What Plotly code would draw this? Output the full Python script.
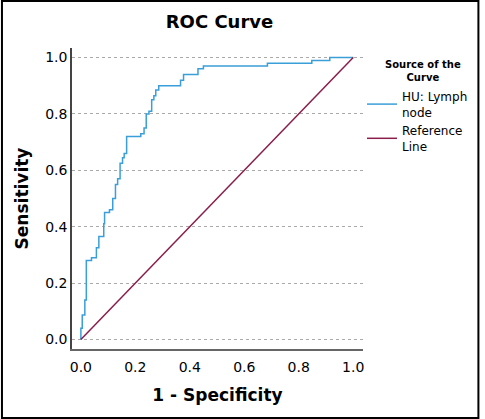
import plotly.graph_objects as go

# ROC curve vertices (1 - specificity, sensitivity), step curve
fpr = [0, 0, 0.005, 0.0145, 0.02, 0.039, 0.057, 0.066, 0.084, 0.087, 0.105, 0.117,
       0.127, 0.135, 0.144, 0.153, 0.159, 0.168, 0.22, 0.232, 0.24, 0.25, 0.26,
       0.268, 0.275, 0.286, 0.366, 0.377, 0.43, 0.45, 0.685, 0.848, 0.914, 1.0]
tpr = [0, 0.04, 0.087, 0.14, 0.28, 0.29, 0.325, 0.365, 0.41, 0.45, 0.46, 0.50,
       0.55, 0.57, 0.625, 0.645, 0.66, 0.72, 0.73, 0.75, 0.80, 0.81, 0.85,
       0.865, 0.885, 0.90, 0.92, 0.94, 0.96, 0.97, 0.98, 0.99, 1.0, 1.0]
ref_x = [0, 1]
ref_y = [0, 1]
tick_vals = [0, 0.2, 0.4, 0.6, 0.8, 1.0]
tick_text = ["0.0", "0.2", "0.4", "0.6", "0.8", "1.0"]

W, H = 485, 419
L, R, T, B = 72, 118, 48, 70
pw, ph = W - L - R, H - T - B

fig = go.Figure()
fig.add_trace(go.Scatter(x=fpr, y=tpr, mode="lines", line_shape="hv",
                         line=dict(color="#3a9fd8", width=1.5),
                         name="HU: Lymph<br>node"))
fig.add_trace(go.Scatter(x=ref_x, y=ref_y, mode="lines",
                         line=dict(color="#8a1d4a", width=1.5),
                         name="Reference<br>Line"))

font = "DejaVu Sans"
fig.update_layout(
    width=W, height=H,
    margin=dict(l=L, r=R, t=T, b=B),
    paper_bgcolor="white", plot_bgcolor="white",
    font=dict(family=font, color="black"),
    title=dict(text="<b>ROC Curve</b>", font=dict(size=18, family=font),
               x=(L + pw / 2) / W, xanchor="center", y=1 - 22 / H, yanchor="middle"),
    showlegend=True,
    legend=dict(
        x=(366 - L) / pw, xanchor="left", y=(H - B - 82) / ph, yanchor="top",
        font=dict(size=12, family=font), bgcolor="rgba(0,0,0,0)",
        tracegroupgap=0, itemwidth=30,
    ),
)
fig.add_annotation(text="<b>Source of the<br>Curve</b>", xref="paper", yref="paper",
                   x=(428 - L) / pw, y=(H - B - 71) / ph, xanchor="center", yanchor="middle",
                   showarrow=False, align="center", font=dict(size=10, family=font))
fig.update_xaxes(range=[-0.0326, 1.036], tickvals=tick_vals, ticktext=tick_text,
                 showgrid=False, zeroline=False, showline=True, linecolor="#666",
                 linewidth=1.5, ticks="", tickfont=dict(size=14), ticklabelstandoff=4,
                 title=dict(text="<b>1 - Specificity</b>", font=dict(size=17), standoff=16))
fig.update_yaxes(range=[-0.034, 1.034], tickvals=tick_vals, ticktext=tick_text,
                 showgrid=True, gridcolor="#aaaaaa", griddash="3px,3px", gridwidth=1,
                 zeroline=False, showline=True, linecolor="#444",
                 linewidth=1.5, ticks="", tickfont=dict(size=14),
                 title=dict(text="<b>Sensitivity</b>", font=dict(size=17), standoff=12))

# outer frame
fig.add_shape(type="rect", xref="paper", yref="paper",
              x0=(1 - L) / pw, x1=(W - 1 - L) / pw,
              y0=-(B - 1) / ph, y1=(H - 1 - B) / ph,
              line=dict(color="black", width=2), fillcolor="rgba(0,0,0,0)")

fig.write_html("out.html")
